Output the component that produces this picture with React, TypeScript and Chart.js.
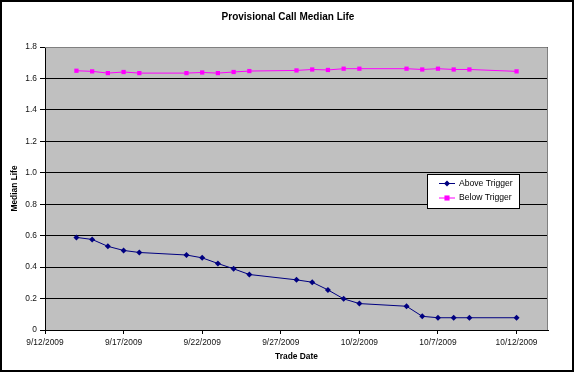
import React, { useEffect, useRef } from 'react';
import { Chart, registerables } from 'chart.js';

Chart.register(...registerables);

// ---- Data ----
const tradeDates = [
  '9/14/2009', '9/15/2009', '9/16/2009', '9/17/2009', '9/18/2009',
  '9/21/2009', '9/22/2009', '9/23/2009', '9/24/2009', '9/25/2009',
  '9/28/2009', '9/29/2009', '9/30/2009', '10/1/2009', '10/2/2009',
  '10/5/2009', '10/6/2009', '10/7/2009', '10/8/2009', '10/9/2009',
  '10/12/2009',
];
const aboveTrigger = [
  0.589, 0.576, 0.532, 0.506, 0.493,
  0.477, 0.459, 0.423, 0.389, 0.353,
  0.319, 0.304, 0.255, 0.198, 0.168,
  0.151, 0.087, 0.078, 0.078, 0.078,
  0.078,
];
const belowTrigger = [
  1.649, 1.645, 1.634, 1.641, 1.634,
  1.634, 1.638, 1.634, 1.641, 1.647,
  1.651, 1.657, 1.654, 1.662, 1.662,
  1.662, 1.657, 1.662, 1.657, 1.657,
  1.645,
];
const xTickLabels = ['9/12/2009', '9/17/2009', '9/22/2009', '9/27/2009', '10/2/2009', '10/7/2009', '10/12/2009'];
const axisStart = '9/12/2009';
const axisEnd = '10/14/2009';
const yTickValues = [0, 0.2, 0.4, 0.6, 0.8, 1, 1.2, 1.4, 1.6, 1.8];

const chartTitle = 'Provisional Call Median Life';
const xTitle = 'Trade Date';
const yTitle = 'Median Life';
const seriesNames = ['Above Trigger', 'Below Trigger'];

function parseDay(s: string): number {
  const [m, d, y] = s.split('/').map(Number);
  return Date.UTC(y, m - 1, d) / 86400000;
}
const baseDay = parseDay(axisStart);
const dayNum = (s: string) => Math.round(parseDay(s) - baseDay);

const FONT = "'Liberation Sans', Arial, sans-serif";

const plotBgPlugin = {
  id: 'plotBg',
  afterLayout(chart: any) {
    const tb = chart.titleBlock;
    if (tb) {
      tb.left = 0;
      tb.right = chart.width;
      tb.width = chart.width;
    }
  },
  beforeDraw(chart: any) {
    const { ctx, chartArea: a } = chart;
    ctx.save();
    ctx.fillStyle = '#C0C0C0';
    ctx.fillRect(a.left, a.top, a.right - a.left, a.bottom - a.top);
    ctx.restore();
  },
  afterDraw(chart: any) {
    const { ctx, chartArea: a, width, height } = chart;
    ctx.save();
    ctx.strokeStyle = '#808080';
    ctx.lineWidth = 1;
    ctx.beginPath();
    ctx.moveTo(a.left, a.top + 0.5);
    ctx.lineTo(a.right - 0.5, a.top + 0.5);
    ctx.lineTo(a.right - 0.5, a.bottom);
    ctx.stroke();
    // outer chart border
    ctx.strokeStyle = '#000';
    ctx.lineWidth = 2;
    ctx.strokeRect(1, 1, width - 4, height - 3);
    ctx.restore();
  },
};

const legendPlugin = {
  id: 'boxLegend',
  afterDraw(chart: any) {
    const { ctx, chartArea: a } = chart;
    const w = 92;
    const h = 34;
    const x = Math.round(a.left + (a.right - a.left) * 0.76);
    const y = Math.round(a.top + (a.bottom - a.top) * 0.447);
    ctx.save();
    ctx.fillStyle = '#fff';
    ctx.fillRect(x, y, w, h);
    ctx.strokeStyle = '#000';
    ctx.lineWidth = 1;
    ctx.strokeRect(x + 0.5, y + 0.5, w, h);
    chart.data.datasets.forEach((ds: any, i: number) => {
      const cy = y + 9.5 + i * 14.5;
      ctx.strokeStyle = ds.borderColor;
      ctx.lineWidth = 1;
      ctx.beginPath();
      ctx.moveTo(x + 12, cy);
      ctx.lineTo(x + 28, cy);
      ctx.stroke();
      ctx.fillStyle = ds.backgroundColor;
      const cx = x + 20;
      const r = ds.pointRadius;
      ctx.beginPath();
      if (ds.pointStyle === 'rectRot') {
        ctx.moveTo(cx, cy - r);
        ctx.lineTo(cx + r, cy);
        ctx.lineTo(cx, cy + r);
        ctx.lineTo(cx - r, cy);
        ctx.closePath();
      } else {
        const s = r * 0.85;
        ctx.rect(cx - s, cy - s, 2 * s, 2 * s);
      }
      ctx.fill();
      ctx.fillStyle = '#000';
      ctx.font = `8.6px ${FONT}`;
      ctx.textBaseline = 'middle';
      ctx.textAlign = 'left';
      ctx.fillText(ds.label, x + 32, cy);
    });
    ctx.restore();
  },
};

export default function App() {
  const ref = useRef<HTMLCanvasElement>(null);

  useEffect(() => {
    if (!ref.current) return;
    const xs = tradeDates.map(dayNum);
    const tickMap = new Map<number, string>(xTickLabels.map((s) => [dayNum(s), s]));
    const chart = new Chart(ref.current, {
      type: 'line',
      data: {
        datasets: [
          {
            label: seriesNames[0],
            data: xs.map((x, i) => ({ x, y: aboveTrigger[i] })),
            borderColor: '#000080',
            backgroundColor: '#000080',
            borderWidth: 1,
            pointStyle: 'rectRot',
            pointRadius: 3,
            pointBorderWidth: 0,
            tension: 0,
          },
          {
            label: seriesNames[1],
            data: xs.map((x, i) => ({ x, y: belowTrigger[i] })),
            borderColor: '#FF00FF',
            backgroundColor: '#FF00FF',
            borderWidth: 1,
            pointStyle: 'rect',
            pointRadius: 3,
            pointBorderWidth: 0,
            tension: 0,
          },
        ] as any,
      },
      options: {
        responsive: false,
        animation: false,
        events: [],
        layout: { padding: { left: 0, right: 28, top: 0, bottom: 5 } },
        plugins: {
          legend: { display: false },
          tooltip: { enabled: false },
          title: {
            display: true,
            text: chartTitle,
            color: '#000',
            font: { family: FONT, size: 10, weight: 'bold' },
            padding: { top: 11, bottom: 24 },
          },
        },
        scales: {
          x: {
            type: 'linear',
            min: dayNum(axisStart),
            max: dayNum(axisEnd),
            afterBuildTicks: (s: any) => {
              s.ticks = xTickLabels.map((t) => ({ value: dayNum(t) }));
            },
            afterFit: (s: any) => {
              s.height = 38;
            },
            grid: { drawOnChartArea: false, color: '#000', tickLength: 4 },
            border: { color: '#000' },
            ticks: {
              color: '#111',
              font: { family: FONT, size: 8.4 },
              padding: 4,
              maxRotation: 0,
              autoSkip: false,
              callback: (v: any) => tickMap.get(Number(v)) ?? '',
            },
            title: {
              display: true,
              text: xTitle,
              color: '#000',
              font: { family: FONT, size: 8.4, weight: 'bold' },
              padding: { top: 0, bottom: 6 },
            },
          },
          y: {
            min: 0,
            max: 1.8,
            afterBuildTicks: (s: any) => {
              s.ticks = yTickValues.map((v) => ({ value: v }));
            },
            afterFit: (s: any) => {
              s.width = 45;
            },
            grid: { color: '#000', tickLength: 5 },
            border: { color: '#000' },
            ticks: {
              color: '#111',
              font: { family: FONT, size: 8.4 },
              padding: 3,
            },
            title: {
              display: true,
              text: yTitle,
              color: '#000',
              font: { family: FONT, size: 8.4, weight: 'bold' },
              padding: { top: 10, bottom: 0 },
            },
          },
        },
      } as any,
      plugins: [plotBgPlugin, legendPlugin],
    });
    return () => chart.destroy();
  }, []);

  return (
    <div style={{ position: 'fixed', left: 0, top: 0, width: 576, height: 373, background: '#fff' }}>
      <canvas ref={ref} width={576} height={373} style={{ display: 'block' }} />
    </div>
  );
}
